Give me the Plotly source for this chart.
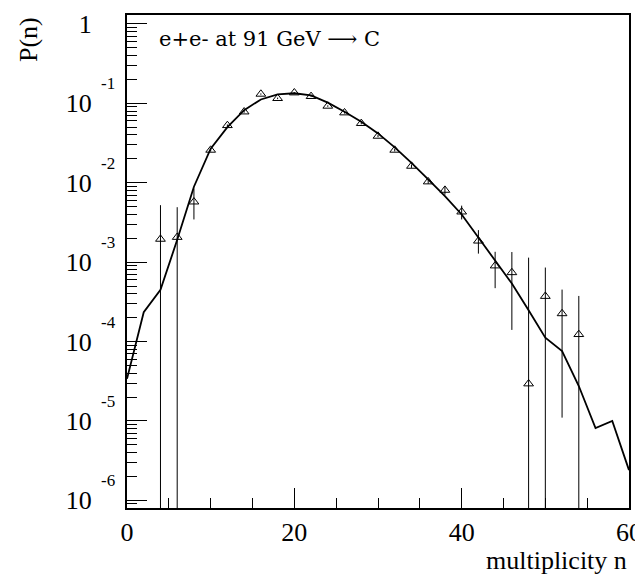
import plotly.graph_objects as go
import math

# ---- data ----
curve_n = list(range(0, 62, 2))
curve_p = [3.39e-5, 2.34e-4, 4.47e-4, 1.91e-3, 8.91e-3, 0.0269, 0.0501, 0.0822,
           0.112, 0.130, 0.134, 0.126, 0.102, 0.0783, 0.0586, 0.0418, 0.0279,
           0.0178, 0.0110, 6.78e-3, 3.98e-3, 2.04e-3, 1.08e-3, 5.37e-4, 2.47e-4,
           1.12e-4, 7.59e-5, 2.75e-5, 8.13e-6, 1.0e-5, 2.4e-6]

data_n = list(range(4, 56, 2))
data_p = [1.95e-3, 2.06e-3, 5.75e-3, 0.0258, 0.0527, 0.0783, 0.131, 0.1156,
          0.136, 0.1225, 0.0925, 0.0762, 0.056, 0.0387, 0.0258, 0.0162, 0.0103,
          8.07e-3, 4.30e-3, 1.85e-3, 9.0e-4, 7.4e-4, 2.94e-5, 3.72e-4, 2.25e-4,
          1.23e-4]
err_up = [3.27e-3, 2.86e-3, 2.7e-3, 1.0e-3, 1.5e-3, 2.0e-3, 2.5e-3, 2.5e-3,
          2.5e-3, 2.5e-3, 2.0e-3, 1.8e-3, 1.5e-3, 1.2e-3, 1.0e-3, 8e-4, 6e-4,
          1.0e-3, 8.5e-4, 6.8e-4, 4.5e-4, 6.0e-4, 1.11e-3, 4.83e-4, 2.26e-4,
          2.52e-4]
err_down = [3.27e-3, 2.86e-3, 2.3e-3, 1.0e-3, 1.5e-3, 2.0e-3, 2.5e-3, 2.5e-3,
            2.5e-3, 2.5e-3, 2.0e-3, 1.8e-3, 1.5e-3, 1.2e-3, 1.0e-3, 8e-4, 6e-4,
            1.0e-3, 8.5e-4, 5.7e-4, 4.3e-4, 6.0e-4, 1.11e-3, 4.83e-4, 2.14e-4,
            2.52e-4]

x_tick_vals = [0, 20, 40, 60]
x_tick_text = ["0", "20", "40", "60"]
y_tick_vals = [1, 1e-1, 1e-2, 1e-3, 1e-4, 1e-5, 1e-6]
y_tick_text = ["1", "10", "10", "10", "10", "10", "10"]
y_tick_exp = ["", "-1", "-2", "-3", "-4", "-5", "-6"]

title_text = "e+e- at 91 GeV \u27f6 C"
x_title = "multiplicity n"
y_title = "P(n)"

FONT = "Liberation Serif, Times New Roman, serif"
FONT_WIDE = "DejaVu Serif, Liberation Serif, serif"

# clamp lower errors so that bars reaching below zero run off the bottom
err_minus = [min(e, v - 1e-9) for e, v in zip(err_down, data_p)]

fig = go.Figure()
fig.add_trace(go.Scatter(
    x=curve_n, y=curve_p, mode="lines",
    line=dict(color="black", width=1.8),
    hoverinfo="skip"))
fig.add_trace(go.Scatter(
    x=data_n, y=data_p, mode="markers",
    marker=dict(symbol="triangle-up-open", size=8.5, color="black",
                line=dict(color="black", width=1)),
    error_y=dict(type="data", array=err_up, arrayminus=err_minus,
                 symmetric=False, width=0, thickness=1, color="black")))

# page has a default 8px body margin; geometry below is in page pixels
OFF = 8
PAGE_W, PAGE_H = 643, 576
PL, PR, PT, PB = 127, 629, 15, 508   # plot area edges in page pixels
W, H = PAGE_W - OFF, PAGE_H - OFF
L = PL - OFF
T = PT - OFF
R = W - (PR - OFF)
B = H - (PB - OFF)
pw = PR - PL
ph = PB - PT

minor_y = [k * 10 ** e for e in range(-7, 1) for k in range(2, 10)]

fig.update_layout(
    width=W, height=H,
    margin=dict(l=L, r=R, t=T, b=B, pad=0, autoexpand=False),
    paper_bgcolor="white", plot_bgcolor="white",
    showlegend=False,
    font=dict(family=FONT, color="black", size=26),
    xaxis=dict(range=[0, 60], showgrid=False, zeroline=False,
               showline=True, linecolor="black", linewidth=2, mirror=True,
               ticks="inside", ticklen=20, tickwidth=1, tickcolor="black",
               tickvals=x_tick_vals, ticktext=x_tick_text,
               tickfont=dict(family=FONT, size=26, color="black"),
               ticklabelstandoff=0, automargin=False,
               minor=dict(ticks="inside", ticklen=10, tickwidth=1,
                          tickcolor="black", dtick=5, tick0=0, showgrid=False)),
    yaxis=dict(type="log", range=[-6.097, 0.113], showgrid=False, zeroline=False,
               showline=True, linecolor="black", linewidth=2, mirror=True,
               ticks="inside", ticklen=20, tickwidth=1, tickcolor="black",
               tickvals=y_tick_vals, ticktext=y_tick_text,
               tickfont=dict(family=FONT, size=26, color="black"),
               ticklabelstandoff=28, automargin=False,
               minor=dict(ticks="inside", ticklen=10, tickwidth=1,
                          tickcolor="black", tickmode="array",
                          tickvals=minor_y, showgrid=False)),
)

def px_x(p):
    return (p - PL) / pw

def px_y(p):
    return (PB - p) / ph

ann = []
for v, e in zip(y_tick_vals, y_tick_exp):
    if e:
        ann.append(dict(text=e, xref="paper", yref="y", x=px_x(108),
                        y=math.log10(v), yshift=19.5, xanchor="center",
                        yanchor="middle", showarrow=False,
                        font=dict(family=FONT, size=17, color="black")))
ann.append(dict(text=title_text, xref="paper", yref="paper", x=px_x(157),
                y=px_y(39), xanchor="left", yanchor="middle", showarrow=False,
                font=dict(family=FONT_WIDE, size=21, color="black")))
ann.append(dict(text=y_title, xref="paper", yref="paper", x=px_x(29),
                y=px_y(40), xanchor="center", yanchor="middle", textangle=-90,
                showarrow=False, font=dict(family=FONT, size=26, color="black")))
ann.append(dict(text=x_title, xref="paper", yref="paper", x=px_x(629),
                y=px_y(560), xanchor="right", yanchor="middle", showarrow=False,
                font=dict(family=FONT, size=26, color="black")))
ann.append(dict(text="6", xref="paper", yref="paper", x=px_x(-3),
                y=px_y(531), xanchor="center", yanchor="middle", showarrow=False,
                font=dict(family=FONT, size=26, color="black")))
fig.update_layout(annotations=ann)

fig.write_html("out.html")
